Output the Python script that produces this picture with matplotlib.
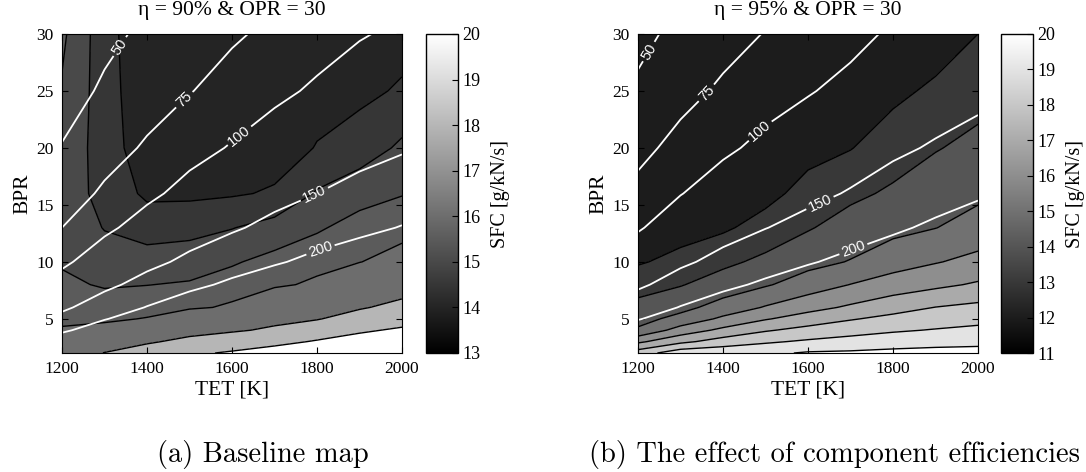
import numpy as np
import matplotlib
matplotlib.use("Agg")
import matplotlib.pyplot as plt
from matplotlib.colors import Normalize
from matplotlib.cm import ScalarMappable

plt.rcParams['font.family'] = ['Liberation Serif', 'DejaVu Serif']

# grid: turbine entry temperature [K] x bypass ratio
tet = [1200, 1300, 1400, 1500, 1600, 1700, 1800, 1900, 2000]
bpr = [2, 3, 4, 5, 6, 8, 10, 13, 16, 20, 25, 30]

# SFC [g/kN/s], eta = 90 %  (rows = bpr, cols = tet)
sfc_a = [
    [17.0, 18.05, 18.8, 19.7, 20.2, 20.8, 21.3, 21.7, 22.0],
    [16.6, 17.0, 17.8, 18.4, 19.0, 19.5, 20.15, 20.7, 21.1],
    [16.05, 16.2, 16.9, 17.5, 17.8, 18.25, 19.0, 19.75, 20.25],
    [15.9, 15.9, 16.03, 16.7, 17.0, 17.6, 17.9, 18.7, 19.3],
    [15.78, 15.75, 15.8, 15.88, 16.1, 17.0, 17.2, 17.85, 18.45],
    [15.6, 15.45, 15.49, 15.55, 15.7, 15.85, 16.15, 16.7, 17.25],
    [15.45, 15.2, 15.2, 15.25, 15.45, 15.65, 15.75, 15.98, 16.3],
    [15.3, 14.98, 14.8, 14.85, 14.98, 15.2, 15.45, 15.65, 15.75],
    [15.25, 14.85, 14.4, 14.4, 14.45, 14.55, 15.05, 15.35, 15.48],
    [15.3, 14.8, 14.15, 14.2, 14.2, 14.3, 14.52, 14.7, 15.1],
    [15.45, 14.75, 14.1, 14.1, 14.1, 14.15, 14.35, 14.4, 14.55],
    [15.6, 14.7, 14.1, 14.05, 14.05, 14.1, 14.25, 14.35, 14.35],
]

# SFC [g/kN/s], eta = 95 %
sfc_b = [
    [18.5, 19.6, 19.7, 19.8, 20.1, 20.15, 20.25, 20.3, 20.3],
    [16.8, 17.75, 18.44, 18.86, 19.14, 19.36, 19.55, 19.69, 19.78],
    [15.14, 16.43, 17.24, 17.9, 18.32, 18.62, 18.88, 19.06, 19.22],
    [14.67, 15.3, 16.2, 16.92, 17.45, 17.92, 18.27, 18.53, 18.71],
    [14.3, 14.72, 15.38, 16.08, 16.67, 17.15, 17.62, 18.02, 18.24],
    [13.59, 13.94, 14.46, 14.9, 15.47, 16.02, 16.45, 16.78, 17.12],
    [12.9, 13.29, 13.78, 14.23, 14.7, 15.05, 15.58, 15.94, 16.28],
    [12.6, 12.6, 12.85, 13.38, 13.92, 14.41, 14.72, 14.98, 15.39],
    [12.45, 12.4, 12.6, 12.7, 13.35, 13.79, 14.15, 14.55, 14.8],
    [12.35, 12.3, 12.4, 12.45, 12.67, 12.96, 13.52, 13.94, 14.27],
    [12.3, 12.25, 12.3, 12.3, 12.45, 12.6, 12.76, 13.19, 13.62],
    [12.25, 12.2, 12.25, 12.25, 12.35, 12.45, 12.55, 12.45, 13.0],
]

# white iso-lines (labelled 50 ... 200)
iso_a = [
    [293, 335, 373, 404, 436, 455, 468, 482, 503],
    [232, 272, 308, 339, 369, 390, 407, 422, 443],
    [191, 229, 262, 292, 320, 341, 359, 376, 396],
    [163, 197, 228, 256, 282, 303, 322, 339, 358],
    [142, 173, 202, 228, 253, 273, 292, 308, 326],
    [113, 140, 165, 188, 209, 228, 245, 261, 278],
    [94, 117, 139, 159, 178, 195, 212, 226, 242],
    [75, 94, 112, 130, 145, 161, 176, 189, 202],
    [62, 79, 94, 109, 123, 137, 150, 163, 174],
    [51, 65, 78, 91, 102, 114, 126, 136, 146],
    [41, 53, 64, 74, 84, 94, 104, 114, 122],
    [35, 45, 54, 63, 72, 80, 89, 98, 105],
]

iso_b = [
    [321, 344, 371, 397, 420, 437, 446, 457, 499],
    [266, 293, 319, 345, 368, 386, 398, 412, 448],
    [226, 255, 280, 305, 327, 345, 350, 375, 407],
    [197, 225, 250, 273, 294, 312, 321, 344, 373],
    [175, 202, 225, 247, 267, 285, 296, 318, 344],
    [143, 168, 189, 208, 226, 243, 257, 276, 298],
    [120, 143, 162, 179, 196, 212, 226, 244, 263],
    [97, 117, 134, 149, 163, 177, 193, 208, 223],
    [82, 99, 114, 127, 140, 153, 167, 181, 194],
    [68, 83, 95, 107, 118, 129, 143, 154, 165],
    [53, 67, 79, 89, 98, 108, 120, 130, 139],
    [45, 55, 66, 76, 84, 92, 104, 113, 120],
]

levels_a = [14, 14.5, 15, 15.5, 16, 18, 20, 23]
levels_b = [12, 13, 14, 15, 16, 17, 18, 19, 20, 21]
iso_levels = [50, 75, 100, 150, 200]

# where the inline labels sit on the white lines
label_pos_a = [(1348, 28.6), (1494, 24.0), (1619, 21.0), (1791, 16.2), (1807, 11.2)]
label_pos_b = [(1228, 28.4), (1370, 24.5), (1492, 21.3), (1624, 15.5), (1704, 11.4)]

W, H = 1086, 472


def px_box(x0, x1, y0, y1):
    return [x0 / W, 1 - y1 / H, (x1 - x0) / W, (y1 - y0) / H]


def draw_panel(fig, box, cbox, sfc, iso, levels, clim, title, label_pos):
    X, Y = np.meshgrid(tet, bpr)
    Z = np.array(sfc)
    norm = Normalize(*clim)
    fill = [plt.cm.gray(norm(l)) for l in levels[:-1]]

    ax = fig.add_axes(box)
    ax.contourf(X, Y, Z, levels=levels, colors=fill)
    ax.contour(X, Y, Z, levels=levels[1:-1], colors='k', linewidths=1.0)
    cs = ax.contour(X, Y, np.array(iso), levels=iso_levels, colors='white', linewidths=1.3)
    txt = ax.clabel(cs, fmt='%d', fontsize=10.5, colors='white', inline=True,
                    inline_spacing=4, manual=label_pos)
    for t in txt:
        t.set_fontfamily('Liberation Sans')

    ax.set_xlim(1200, 2000)
    ax.set_ylim(2, 30)
    ax.set_xticks([1200, 1400, 1600, 1800, 2000])
    ax.set_yticks([5, 10, 15, 20, 25, 30])
    ax.tick_params(direction='in', length=4, labelsize=12.5, top=True, right=True, pad=6)
    ax.set_xlabel('TET [K]', fontsize=15.5, labelpad=2)
    ax.set_ylabel('BPR', fontsize=15.5, labelpad=3)
    fig.text(box[0] + box[2] / 2, 1 - 10 / H, title, ha='center', va='center', fontsize=15.5)

    cax = fig.add_axes(cbox)
    cb = fig.colorbar(ScalarMappable(norm=norm, cmap='gray'), cax=cax)
    cb.set_ticks(range(int(clim[0]), int(clim[1]) + 1))
    cax.tick_params(direction='in', length=4, labelsize=13, pad=3)
    cb.set_label('SFC [g/kN/s]', fontsize=14.5, labelpad=8)
    cb.outline.set_linewidth(1.0)
    return ax


fig = plt.figure(figsize=(W / 100, H / 100), dpi=100)

draw_panel(fig, px_box(62, 402, 34, 353), px_box(426, 458, 34, 353),
           sfc_a, iso_a, levels_a, (13, 20), 'η = 90% & OPR = 30', label_pos_a)
draw_panel(fig, px_box(638, 978, 34, 353), px_box(1001, 1033, 34, 353),
           sfc_b, iso_b, levels_b, (11, 20), 'η = 95% & OPR = 30', label_pos_b)

# sub-figure captions (LaTeX style)
fig.text(157 / W, 1 - 461.7 / H, '(a) Baseline map', family='cmr10', fontsize=20.5,
         ha='left', va='baseline')
fig.text(589 / W, 1 - 461.7 / H, '(b) The effect of component efficiencies', family='cmr10',
         fontsize=20.5, ha='left', va='baseline')

fig.savefig('out.png', dpi=100)
